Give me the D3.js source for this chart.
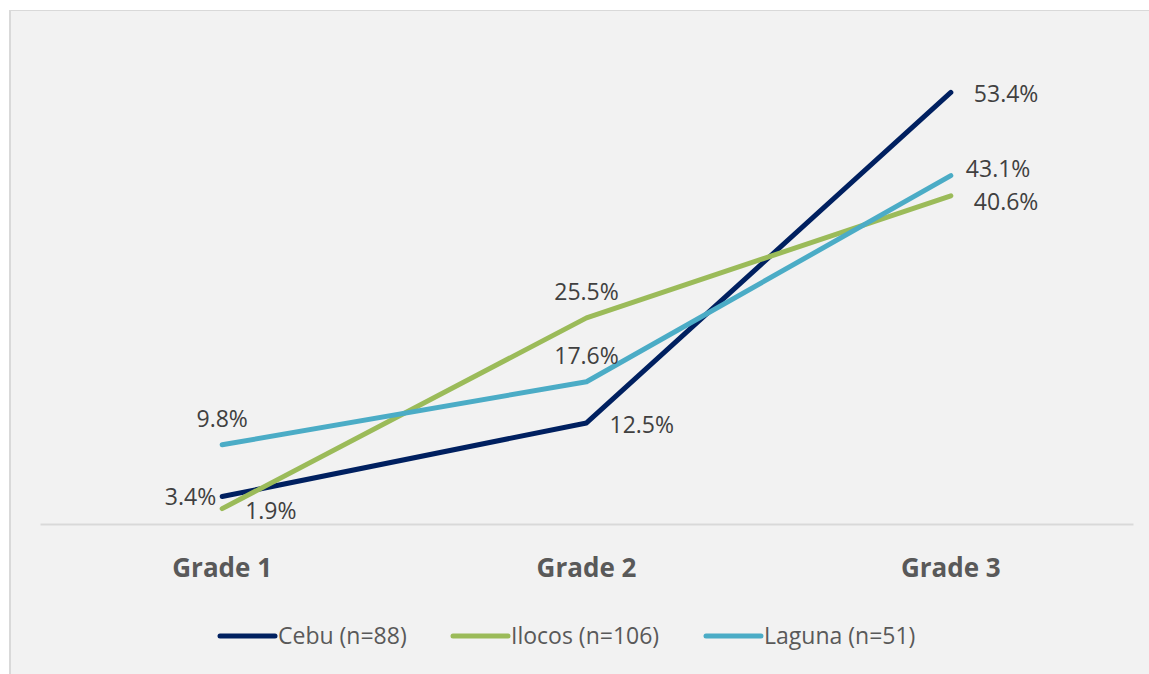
<!DOCTYPE html>
<html>
<head>
<meta charset="utf-8">
<script src="https://cdn.jsdelivr.net/npm/d3@7"></script>
<style>
  html, body { margin: 0; padding: 0; background: #ffffff; }
  svg { display: block; }
  text { font-family: "Open Sans", "Noto Sans", sans-serif; }
</style>
</head>
<body>
<svg id="chart" width="1149" height="674"></svg>
<script>
// Share of pupils by grade and province
const grades = ["Grade 1", "Grade 2", "Grade 3"];
const seriesNames = ["Cebu (n=88)", "Ilocos (n=106)", "Laguna (n=51)"];
const cebu = [3.4, 12.5, 53.4];
const ilocos = [1.9, 25.5, 40.6];
const laguna = [9.8, 17.6, 43.1];
const yDomain = [0, 60];

const colors = ["#002060", "#9bbb59", "#4bacc6"];
// where each value label sits relative to its point
const labelPlacement = [
  ["left", "right", "right"],
  ["right", "above", "rightLow"],
  ["above", "above", "rightNear"]
];

const series = [cebu, ilocos, laguna].map((vals, i) => ({
  name: seriesNames[i],
  color: colors[i],
  points: vals.map((v, j) => ({ grade: grades[j], value: v, place: labelPlacement[i][j] }))
}));

const W = 1149, H = 674;
const svg = d3.select("#chart");

// panel background and frame
svg.append("rect").attr("x", 9.5).attr("y", 10.5).attr("width", W).attr("height", H)
  .attr("fill", "#f2f2f2").attr("stroke", "#d9d9d9").attr("stroke-width", 1);
svg.append("rect").attr("x", 9).attr("y", 11).attr("width", 2).attr("height", H)
  .attr("fill", "#d9d9d9");

const plot = { left: 40, right: 1133, top: 39, bottom: 524 };

const x = d3.scaleBand().domain(grades).range([plot.left, plot.right]);
const y = d3.scaleLinear().domain(yDomain).range([plot.bottom, plot.top]);
const cx = g => x(g) + x.bandwidth() / 2;

// category axis
const xAxis = svg.append("g")
  .attr("transform", `translate(0,${plot.bottom})`)
  .call(d3.axisBottom(x).tickSize(0).tickPadding(35));
xAxis.select(".domain").attr("stroke", "#d9d9d9").attr("stroke-width", 2);
xAxis.selectAll(".tick text")
  .attr("fill", "#595959")
  .style("font-size", "26px")
  .style("font-weight", "700")
  .style("font-family", "'Open Sans', sans-serif");

// lines
const line = d3.line().x(d => cx(d.grade)).y(d => y(d.value));
svg.append("g").selectAll("path").data(series).join("path")
  .attr("d", d => line(d.points))
  .attr("fill", "none")
  .attr("stroke", d => d.color)
  .attr("stroke-width", 5)
  .attr("stroke-linecap", "round")
  .attr("stroke-linejoin", "round");

// value labels
const labels = svg.append("g");
series.forEach(s => {
  s.points.forEach(p => {
    const px = cx(p.grade), py = y(p.value);
    const t = labels.append("text")
      .text(d3.format(".1f")(p.value) + "%")
      .attr("fill", "#404040")
      .style("font-size", "23px");
    if (p.place === "left") {
      t.attr("x", px - 6).attr("y", py + 8).attr("text-anchor", "end");
    } else if (p.place === "right") {
      t.attr("x", px + 23).attr("y", py + 10).attr("text-anchor", "start");
    } else if (p.place === "rightLow") {
      t.attr("x", px + 23).attr("y", py + 14).attr("text-anchor", "start");
    } else if (p.place === "rightNear") {
      t.attr("x", px + 15).attr("y", py + 1).attr("text-anchor", "start");
    } else {
      t.attr("x", px).attr("y", py - 18).attr("text-anchor", "middle");
    }
  });
});

// legend
const legendItemsX = [220, 453, 706];
const legend = svg.append("g").attr("transform", "translate(0,636)");
series.forEach((s, i) => {
  const g = legend.append("g").attr("transform", `translate(${legendItemsX[i]},0)`);
  g.append("line").attr("x1", 0).attr("x2", 55).attr("y1", 0).attr("y2", 0)
    .attr("stroke", s.color).attr("stroke-width", 5).attr("stroke-linecap", "round");
  g.append("text").attr("x", 58).attr("y", 8)
    .attr("fill", "#595959")
    .style("font-size", "23px")
    .text(s.name);
});
</script>
</body>
</html>
